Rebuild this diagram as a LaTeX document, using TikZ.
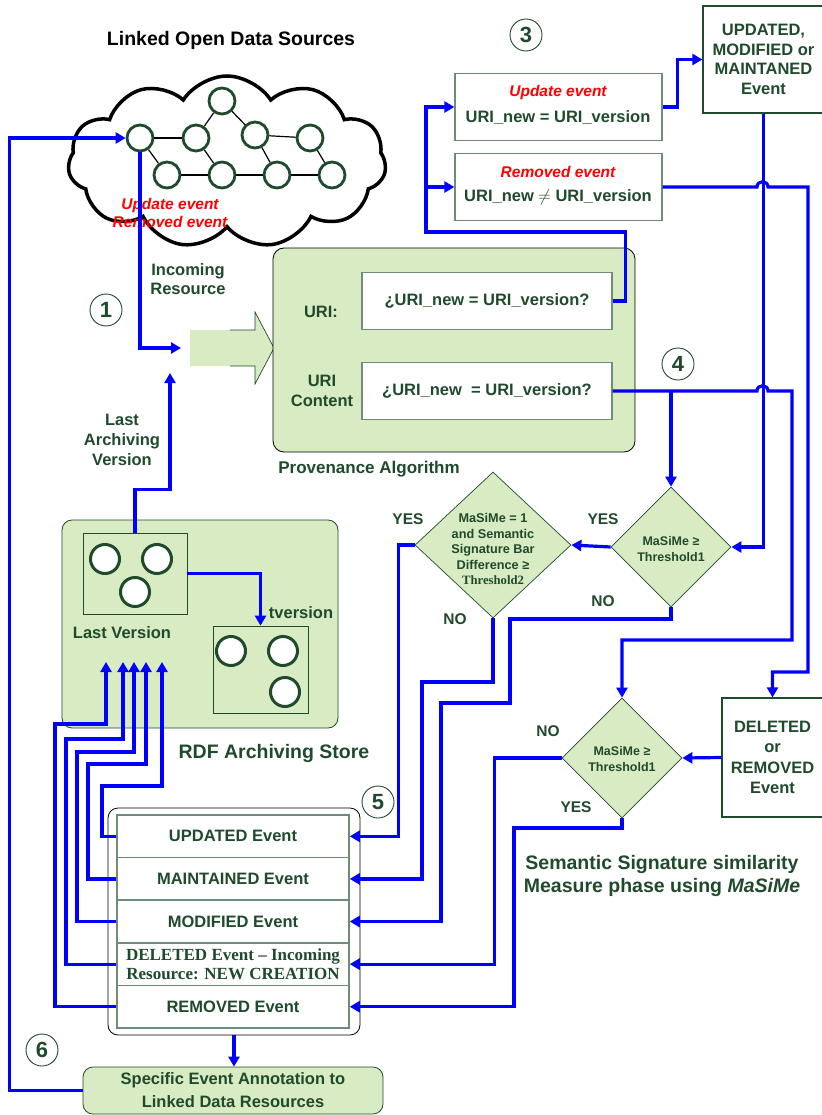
\documentclass[tikz,border=0pt]{standalone}
\usepackage{fontspec}
\setmainfont{Liberation Sans}
\newfontfamily\timesfont{Liberation Serif}
\usetikzlibrary{arrows.meta,shapes.symbols,shapes.geometric,calc}

\definecolor{ink}{HTML}{1F4A2C}
\definecolor{leaf}{HTML}{D8EBC3}
\definecolor{frame}{HTML}{6F8C76}
\definecolor{flowblue}{RGB}{0,0,255}
\definecolor{alert}{RGB}{255,0,0}

\newcommand\fsz[2]{\fontsize{#1}{#2}\selectfont}

\tikzset{
  every node/.style={text=ink},
  flow/.style={draw=flowblue, line width=3.2pt, -{Triangle[length=10pt,width=11pt]}},
  edge/.style={draw=black, line width=1.2pt},
  netnode/.style={circle, draw=ink, line width=2.8pt, fill=white, minimum size=26pt, inner sep=0pt},
  resnode/.style={circle, draw=ink, line width=3pt, fill=white, minimum size=29pt, inner sep=0pt},
  stepnum/.style={circle, draw=ink, line width=0.9pt, minimum size=32pt, inner sep=0pt, font=\fsz{22}{22}\bfseries},
  plainbox/.style={rectangle, draw=frame, line width=1.2pt, fill=white, inner sep=0pt},
  panel/.style={rectangle, rounded corners=11pt, draw=black, line width=0.8pt, fill=leaf, inner sep=0pt},
  subpanel/.style={rectangle, draw=ink, line width=0.8pt, fill=leaf, inner sep=0pt},
  test/.style={diamond, draw=ink, line width=0.7pt, fill=leaf, inner sep=0pt},
  lbl/.style={font=\fsz{16.5}{19.5}\bfseries, align=center, text=ink, inner sep=0pt},
  dlbl/.style={font=\fsz{12.7}{15.5}\bfseries, align=center, text=ink, inner sep=0pt},
  yn/.style={font=\fsz{15.5}{18}\bfseries, text=ink, inner sep=0pt},
  evrow/.style={rectangle, draw=frame, line width=1.5pt, fill=white, minimum width=232pt, minimum height=42.6pt, inner sep=0pt, font=\fsz{16.5}{19}\bfseries, text=ink, align=center},
}

\begin{document}
\begin{tikzpicture}[x=1pt,y=-1pt]
\useasboundingbox (0,0) rectangle (821,1115);

% ---------- Linked open data cloud ----------
\node[font=\fsz{19.5}{22}\bfseries, text=black] (title) at (231,40) {Linked Open Data Sources};
\node[cloud, cloud puffs=11, cloud puff arc=115, cloud ignores aspect, draw=black, line width=3.5pt,
      fill=white, minimum width=318pt, minimum height=172pt, inner sep=0pt] (lod) at (227,162) {};

\node[netnode] (n1) at (140,138) {};
\node[netnode] (n2) at (196,138) {};
\node[netnode] (n3) at (222,101) {};
\node[netnode] (n4) at (255,135) {};
\node[netnode] (n5) at (310,138) {};
\node[netnode] (m1) at (167,175) {};
\node[netnode] (m2) at (222,175) {};
\node[netnode] (m3) at (277,175) {};
\node[netnode] (m4) at (332,175) {};
\draw[edge] (n1) -- (n2);
\draw[edge] (n2) -- (n3);
\draw[edge] (n3) -- (n4);
\draw[edge] (n4) -- (n5);
\draw[edge] (n5) -- (m4);
\draw[edge] (n4) -- (m3);
\draw[edge] (n2) -- (m2);
\draw[edge] (n1) -- (m1);
\draw[edge] (m1) -- (m2);
\draw[edge] (m2) -- (m3);
\draw[edge] (m3) -- (m4);

\node[font=\fsz{15.5}{18.5}\bfseries\itshape, text=alert, align=center] (cev) at (170,213) {Update event\\Removed event};

% ---------- step markers ----------
\node[stepnum] (k1) at (106,310) {1};
\node[stepnum] (k2) at (318,282) {2};
\node[stepnum] (k3) at (526,35) {3};
\node[stepnum] (k4) at (678,364) {4};
\node[stepnum] (k5) at (378,802) {5};
\node[stepnum] (k6) at (42,1050) {6};
\node[stepnum] (k7) at (86,698) {7};
\node[stepnum] (k8) at (226,548) {8};

% ---------- incoming resource ----------
\node[lbl] (inlbl) at (188,279) {Incoming\\Resource};
\node[lbl, font=\fsz{16.5}{20}\bfseries] (lastlbl) at (122,440) {Last\\Archiving\\Version};
\fill[leaf] (190,330) -- (255,330) -- (255,312) -- (274,348) -- (255,384) -- (255,366) -- (190,366) -- cycle;
\draw[ink, line width=0.7pt] (230,330) -- (255,330) -- (255,312) -- (274,348) -- (255,384) -- (255,366) -- (230,366);
\coordinate (inc) at (181,348);
\coordinate (lastin) at (170,373);

% ---------- provenance algorithm ----------
\node[panel, minimum width=362pt, minimum height=204pt] (prov) at (454,350) {};
\node[plainbox, minimum width=250pt, minimum height=57pt, font=\fsz{16.5}{19}\bfseries] (uri1) at (487,301) {¿URI\_new = URI\_version?};
\node[plainbox, minimum width=250pt, minimum height=57pt, font=\fsz{16.5}{19}\bfseries] (uri2) at (487,391) {¿URI\_new\ \ = URI\_version?};
\node[lbl] (urilbl) at (321,312) {URI:};
\node[lbl, font=\fsz{16.5}{20}\bfseries] (contlbl) at (322,391) {URI\\Content};
\node[lbl, font=\fsz{17}{20}\bfseries] (provlbl) at (369,469) {Provenance Algorithm};

% ---------- URI comparison outcomes ----------
\node[plainbox, minimum width=207pt, minimum height=67pt] (upd) at (558.5,107) {};
\node[font=\fsz{15.5}{18}\bfseries\itshape, text=alert] (updt) at (558,92) {Update event};
\node[font=\fsz{16.5}{19}\bfseries] (updu) at (558,118) {URI\_new = URI\_version};
\node[plainbox, minimum width=207pt, minimum height=67pt] (rem) at (558.5,187) {};
\node[font=\fsz{15.5}{18}\bfseries\itshape, text=alert] (remt) at (558,172) {Removed event};
\node[font=\fsz{16.5}{19}\bfseries] (remu) at (558,197) {URI\_new \(\neq\) URI\_version};

\node[plainbox, draw=ink, minimum width=121pt, minimum height=107pt, font=\fsz{16.5}{19.7}\bfseries, align=center] (updbox) at (763.5,59.5) {UPDATED,\\MODIFIED or\\MAINTANED\\Event};
\node[plainbox, draw=ink, minimum width=101pt, minimum height=119pt, font=\fsz{16.5}{20.3}\bfseries, align=center] (delbox) at (772.5,757.5) {DELETED\\or\\REMOVED\\Event};

% ---------- MaSiMe decisions ----------
\node[test, minimum width=156pt, minimum height=146pt] (dA) at (493,545) {};
\node[dlbl] (dAt) at (493,549) {MaSiMe = 1\\and Semantic\\Signature Bar\\Difference ≥\\{\timesfont\bfseries Threshold2}};
\node[test, minimum width=120pt, minimum height=120pt] (dB) at (671,547) {};
\node[dlbl, font=\fsz{12.5}{16}\bfseries] (dBt) at (671,549) {MaSiMe ≥\\Threshold1};
\node[test, minimum width=120pt, minimum height=120pt] (dC) at (622,758) {};
\node[dlbl, font=\fsz{12.5}{15.5}\bfseries] (dCt) at (622,759) {MaSiMe ≥\\Threshold1};

\node[yn] (yA) at (408,519) {YES};
\node[yn] (yB) at (603,519) {YES};
\node[yn] (nA) at (455,619) {NO};
\node[yn] (nB) at (603,601) {NO};
\node[yn] (nC) at (548,731) {NO};
\node[yn] (yC) at (576,807) {YES};

\node[lbl, font=\fsz{19.5}{23}\bfseries] (phase) at (662,876) {Semantic Signature similarity\\Measure phase using \textit{MaSiMe}};

% ---------- RDF archiving store ----------
\node[panel, rounded corners=10pt, draw=ink, minimum width=276pt, minimum height=208pt] (rdf) at (200,624) {};
\node[subpanel, minimum width=104pt, minimum height=81pt] (lv) at (135,573.5) {};
\node[resnode] (a1) at (105,559) {};
\node[resnode] (a2) at (157,559) {};
\node[resnode] (a3) at (135,592) {};
\node[subpanel, minimum width=95pt, minimum height=87pt] (tv) at (260.5,669.5) {};
\node[resnode] (b1) at (231,651) {};
\node[resnode] (b2) at (283,651) {};
\node[resnode] (b3) at (285,692) {};
\node[lbl] (lvlbl) at (122,633) {Last Version};
\node[lbl] (tvlbl) at (301,613) {tversion};
\node[lbl, font=\fsz{19.5}{22}\bfseries] (rdflbl) at (274,753) {RDF Archiving Store};
\coordinate (t1) at (162,662);
\coordinate (t2) at (146,662);
\coordinate (t3) at (134,662);
\coordinate (t4) at (123,662);
\coordinate (t5) at (106,662);

% ---------- event list ----------
\node[rectangle, rounded corners=10pt, draw=black, line width=0.8pt, fill=white, minimum width=252pt, minimum height=227pt] (evlist) at (234,921.5) {};
\node[evrow] (r1) at (233,836.3) {UPDATED Event};
\node[evrow] (r2) at (233,878.9) {MAINTAINED Event};
\node[evrow] (r3) at (233,921.5) {MODIFIED Event};
\node[evrow, font=\timesfont\fsz{17}{19}\bfseries] (r4) at (233,964.1) {DELETED Event – Incoming\\Resource: NEW CREATION};
\node[evrow] (r5) at (233,1006.7) {REMOVED Event};

\node[rectangle, rounded corners=10pt, draw=ink, line width=0.8pt, fill=leaf, minimum width=300pt, minimum height=47pt,
      font=\fsz{16.5}{23}\bfseries, align=center] (annot) at (233,1090.5) {Specific Event Annotation to\\Linked Data Resources};

% ---------- connectors ----------
\draw[flow] (annot.west) -- ++(-73,0) |- (n1.west);
\draw[flow] (n1.south) |- (inc);
\draw[flow] (lv.north) -- ++(0,-43) -| (lastin);
\draw[flow] (lv.east) -| (tv.north);

\draw[flow] (uri1.east) -- ++(13,0) |- (426,232) |- (upd.west);
\draw[flow] ($(rem.west)+(-28,0)$) -- (rem.west);
\draw[flow] (upd.east) -- ++(15,0) |- (updbox.west);
\draw[flow] (updbox.south) |- (dB.east);
\draw[flow] (rem.east) -- (757,187) .. controls (757,180) and (768,180) .. (768,187) -- (808,187) -- (808,672) -| (delbox.north);
\draw[flow] (uri2.east) -- (757,391) .. controls (757,384) and (768,384) .. (768,391) -- (792,391) -- (792,640) -| (dC.north);
\draw[flow] (dB.north |- uri2.east) -- (dB.north);

\draw[flow] (dB.west) -- (dA.east);
\draw[flow] (delbox.west) -- (dC.east);
\draw[flow] (dA.west) -- ++(-16,0) |- (r1.east);
\draw[flow] (dA.south) |- (422,682) |- (r2.east);
\draw[flow] (dB.south) |- (510,619) |- (441,703) |- (r3.east);
\draw[flow] (dC.west) -- ++(-67,0) |- (r4.east);
\draw[flow] (dC.south) |- (514,828) |- (r5.east);

\draw[flow] (r1.west) -| (102,786) -| (t1);
\draw[flow] (r2.west) -| (88,764) -| (t2);
\draw[flow] (r3.west) -| (77,752) -| (t3);
\draw[flow] (r4.west) -| (66,739) -| (t4);
\draw[flow] (r5.west) -| (55,724) -| (t5);

\draw[flow] (evlist.south) -- (evlist.south |- annot.north);
\end{tikzpicture}
\end{document}
